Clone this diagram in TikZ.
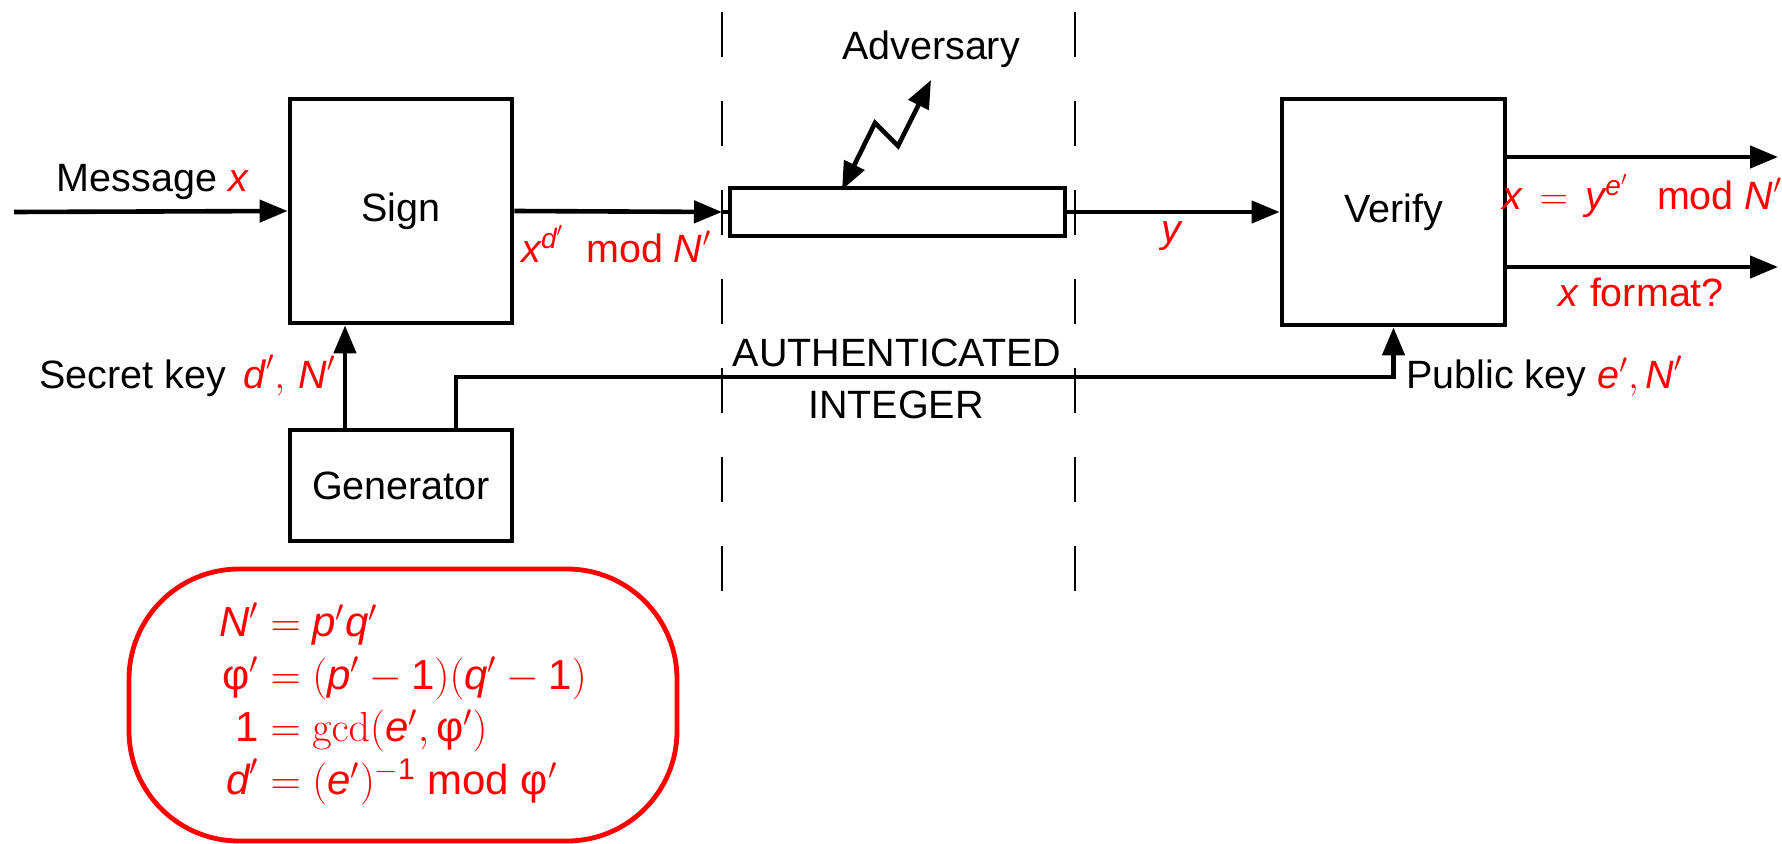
\RequirePackage{fix-cm}
\documentclass[tikz,border=0pt]{standalone}
\usepackage{amsmath}
\usepackage[no-math]{fontspec}
\setmainfont{Liberation Sans}
\usetikzlibrary{arrows.meta}
\DeclareMathSizes{19.75}{19.75}{14}{10}
\DeclareMathSizes{21}{21}{15}{11}
\newcommand\V[1]{\textit{#1}}
\newcommand\Ph{\textup{φ}}
\newcommand\One{\textup{1}}
\begin{document}
\begin{tikzpicture}[x=0.5pt,y=-0.5pt,
  every node/.style={font=\fontsize{19.75pt}{24pt}\selectfont, inner sep=0pt},
  blk/.style={draw, line width=2.4pt, minimum width=111pt, minimum height=112pt},
  conn/.style={line width=2.3pt, line join=miter},
  arr/.style={conn, -{Triangle[length=14pt,width=11pt]}},
  dashln/.style={line width=1.2pt, dash pattern=on 22.5pt off 22pt},
  rtxt/.style={text=red},
  redbox/.style={draw=red, line width=2.4pt, rounded corners=55pt, minimum width=274pt, minimum height=136pt, text=red}
]
\useasboundingbox (0,0) rectangle (1782,844);

% dashed boundaries
\coordinate (d1t) at (722,12);
\coordinate (d1b) at (722,591);
\coordinate (d2t) at (1075,12);
\coordinate (d2b) at (1075,591);
\draw[dashln] (d1t) -- (d1b);
\draw[dashln] (d2t) -- (d2b);

% blocks
\node[blk] (sign) at (401,211) {Sign};
\node[blk, minimum height=55.5pt] (gen) at (401,485.5) {Generator};
\node[blk, minimum width=111.5pt, minimum height=113pt] (verify) at (1393.5,212) {Verify};
\node[draw, line width=2.4pt, minimum width=167.5pt, minimum height=24pt] (chan) at (897.5,212) {};

% connectors
\coordinate (msg) at (14,212);
\coordinate (cin) at (722,212);
\coordinate (o1) at (1778,157);
\coordinate (o2) at (1778,267);
\coordinate (ai) at (897,377);
\draw[arr] (msg) -- (sign.west);
\draw[arr] (sign.east) -- (cin);
\draw[conn] (cin) -- (chan.west);
\draw[arr] (chan.east) -- (verify.west);
\draw[arr] (verify.east |- o1) -- (o1);
\draw[arr] (verify.east |- o2) -- (o2);
\draw[arr] ([xshift=-28pt]gen.north) -- ([xshift=-28pt]sign.south);
\draw[arr] ([xshift=27.5pt]gen.north) |- (ai) -| (verify.south);

% adversary
\node[anchor=base] (adv) at (931,60) {Adversary};
\coordinate (lb) at (842,190);
\coordinate (lk1) at (875,123);
\coordinate (lk2) at (898,146);
\coordinate (lt) at (931,80);
\draw[conn, {Triangle[length=14pt,width=11pt]}-{Triangle[length=14pt,width=11pt]}] (lb) -- (lk1) -- (lk2) -- (lt);

% labels
\node[anchor=base] (msgl) at (153,192) {Message \textcolor{red}{\V{x}}};
\node[anchor=base west, rtxt] (sigl) at (521,263) {$\V{x}^{\V{d}'}$\ \ mod $\V{N}'$};
\node[anchor=base, rtxt] (yl) at (1172,243) {\V{y}};
\node[anchor=base west, rtxt] (vl) at (1502,210) {$\V{x}\,=\,\V{y}^{\V{e}'}$\ \ \,mod $\V{N}'$};
\node[anchor=base, rtxt] (fmt) at (1641,307) {\V{x} format?};
\node[anchor=base east] (skl) at (336,388) {Secret key\, \textcolor{red}{$\V{d}',\,\V{N}'$}};
\node[anchor=base west] (pkl) at (1406,388) {Public key \textcolor{red}{$\V{e}',\V{N}'$}};
\node[anchor=base] (auth) at (897,367) {AUTHENTICATED};
\node[anchor=base] (intg) at (896,418) {INTEGER};

% equations box
\node[redbox] (eq) at (403,705) {\fontsize{21pt}{24pt}\selectfont\renewcommand\arraystretch{1.1}%
  \begin{tabular}{@{}r@{${}={}$}l@{}}
  $\V{N}'$ & $\V{p}'\V{q}'$\\
  $\Ph'$ & $(\V{p}'-\One)(\V{q}'-\One)$\\
  \One & $\gcd(\V{e}',\Ph')$\\
  $\V{d}'$ & $(\V{e}')^{-\One}$ mod $\Ph'$
  \end{tabular}};
\end{tikzpicture}
\end{document}
